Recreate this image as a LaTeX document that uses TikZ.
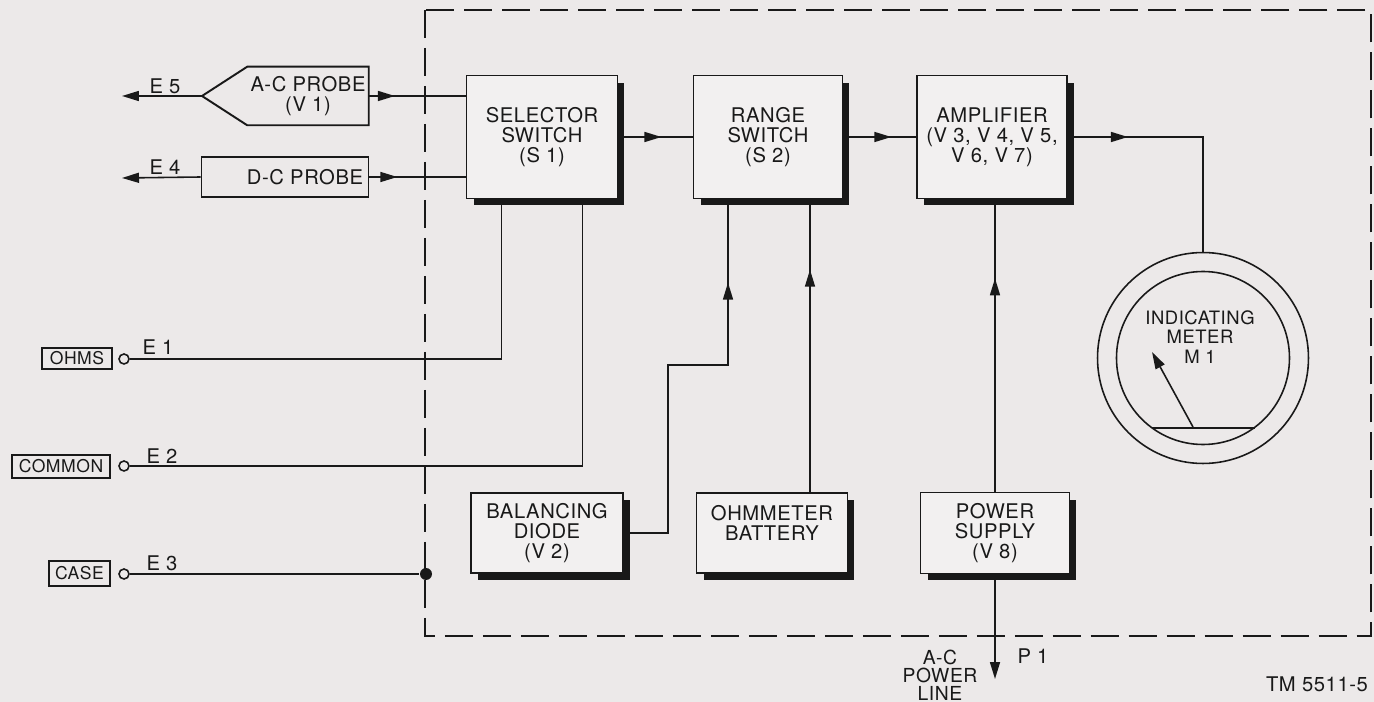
\documentclass[tikz,border=0pt]{standalone}
\usepackage{fontspec}
\setmainfont[LetterSpace=3]{TeX Gyre Heros}
\usetikzlibrary{arrows.meta,shadows,decorations.markings}

\definecolor{paper}{RGB}{236,233,233}
\definecolor{boxfill}{RGB}{242,240,240}
\definecolor{ink}{RGB}{25,25,25}

\tikzset{midtip/.style={postaction={decorate},
  decoration={markings, mark=at position #1 with {\arrow{Triangle[length=0.34cm,width=0.2cm]}}}}}

\begin{document}
\begin{tikzpicture}[x=0.02cm, y=0.02cm, line width=0.9pt, ink]
\tikzstyle{every node}+=[inner sep=0pt, align=center, font=\fontsize{11.5}{11.4}\selectfont]
\tikzstyle{block}=[draw, line width=1.1pt, fill=boxfill, general shadow={fill=ink, shadow xshift=0.14cm, shadow yshift=-0.14cm}]
\tikzstyle{tag}=[draw, line width=1pt, font=\fontsize{10}{10}\selectfont]
\tikzstyle{jack}=[circle, draw, line width=0.9pt, minimum size=0.2cm]
\tikzstyle{endtip}=[-{Triangle[length=0.34cm,width=0.2cm]}]
\fill [paper] (0,0) rectangle (1374,-702);
\useasboundingbox (0,0) rectangle (1374,-702);
% chassis outline
\draw [dash pattern=on 0.56cm off 0.2cm] (425,-10) rectangle (1371,-636);
% blocks
\node [block, minimum width=3.02cm, minimum height=2.46cm] (sel) at (542,-137) {SELECTOR\\SWITCH\\(S 1)};
\node [block, minimum width=2.98cm, minimum height=2.46cm] (rng) at (768,-137) {RANGE\\SWITCH\\(S 2)};
\node [block, minimum width=3cm, minimum height=2.46cm] (amp) at (992,-137) {AMPLIFIER\\(V 3, V 4, V 5,\\V 6, V 7)};
\node [block, minimum width=3.04cm, minimum height=1.6cm] (dio) at (547,-533) {BALANCING\\DIODE\\(V 2)};
\node [block, minimum width=3.02cm, minimum height=1.6cm] (bat) at (772,-533) {OHMMETER\\BATTERY\\\mbox{}};
\node [block, minimum width=2.98cm, minimum height=1.62cm] (pwr) at (995,-533) {POWER\\SUPPLY\\(V 8)};
% probes
\node [minimum width=2.4cm, minimum height=1.14cm] (acp) at (308,-96) {A-C PROBE\\(V 1)};
\coordinate (acptip) at (202,-96);
\draw [line width=1.1pt] (acptip) -- (acp.north west) -- (acp.north east) -- (acp.south east) -- (acp.south west) -- cycle;
\node [draw, line width=1.1pt, minimum width=3.34cm, minimum height=0.8cm] (dcp) at (285,-177) {\hspace*{0.8cm}D-C PROBE};
\coordinate (e5) at (122,-96);
\coordinate (e4) at (122,-178);
\draw [endtip] (acptip) -- (e5);
\draw [endtip] (dcp.west) -- (e4);
\node (e5lbl) at (165,-86.5) {E 5};
\node (e4lbl) at (165,-167.5) {E 4};
\draw [midtip=0.27] (acp.east) -- (sel.west |- acp.east);
\draw [midtip=0.29] (dcp.east) -- (sel.west |- dcp.east);
% signal chain
\node [circle, draw, minimum size=4.22cm] (meter) at (1203,-358) {};
\draw (meter.center) circle (86.5);
\node [font=\fontsize{10.5}{11.3}\selectfont] (mtxt) at (1200,-337) {INDICATING\\METER\\M 1};
\coordinate (pivot) at (1193,-427);
\coordinate (needle) at (1152,-352);
\draw [endtip] (pivot) -- (needle);
\draw (1151.5,-428) -- (1254.5,-428);
\draw [midtip=0.58] (sel.east) -- (rng.west);
\draw [midtip=0.66] (rng.east) -- (amp.west);
\draw [midtip=0.24] (amp.east) -| (meter.north);
% supplies into range switch and amplifier
\coordinate (jog) at (668,-365);
\draw [midtip=0.81] (dio.east) -| (jog) -| ([xshift=-0.8cm]rng.south);
\draw [midtip=0.76] ([xshift=0.76cm]bat.north) -- ([xshift=0.76cm]bat.north |- rng.south);
\draw [midtip=0.73] (pwr.north) -- (pwr.north |- amp.south);
\coordinate (acline) at (997,-679);
\draw [endtip] (pwr.south) -- (pwr.south |- acline);
\node (acl) at (940,-675) [font=\fontsize{11}{10.3}\selectfont] {A-C\\POWER\\LINE};
\node (p1) at (1033,-656) {P 1};
% front panel terminals
\node [tag, minimum width=1.4cm, minimum height=0.42cm] (ohms) at (77,-358.5) {OHMS};
\node [tag, minimum width=1.96cm, minimum height=0.46cm] (common) at (61,-466.5) {COMMON};
\node [tag, minimum width=1.22cm, minimum height=0.5cm] (case) at (79.5,-573.5) {CASE};
\node [jack] (j1) at (124,-359) {};
\node [jack] (j2) at (124,-466) {};
\node [jack] (j3) at (124,-574) {};
\node (e1) at (158,-347) {E 1};
\node (e2) at (162,-456) {E 2};
\node (e3) at (162,-563) {E 3};
\node [circle, fill, minimum size=0.24cm] (dot) at (426,-574) {};
\draw (j1.east) -| ([xshift=-0.81cm]sel.south);
\draw (j2.east) -| ([xshift=0.81cm]sel.south);
\draw (j3.east) -- (dot);
\node (tm) at (1317,-684) {TM 5511-5};
\end{tikzpicture}
\end{document}
